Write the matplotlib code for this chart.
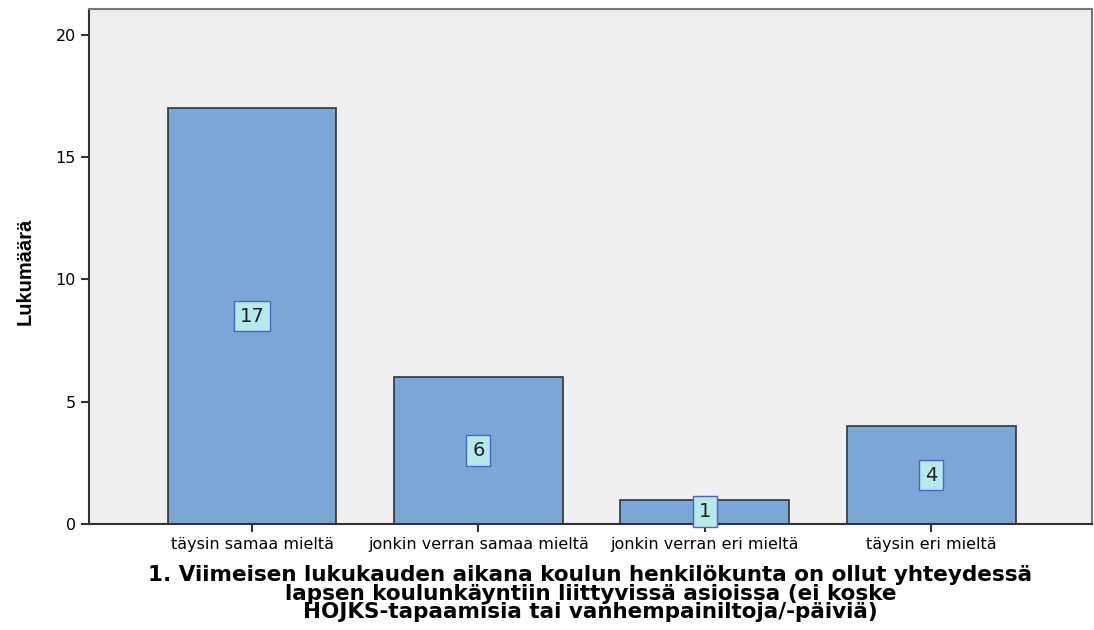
import matplotlib.pyplot as plt

categories = ['täysin samaa mieltä', 'jonkin verran samaa mieltä',
              'jonkin verran eri mieltä', 'täysin eri mieltä']
counts = [17, 6, 1, 4]
y_ticks = [0, 5, 10, 15, 20]
x_title = ('1. Viimeisen lukukauden aikana koulun henkilökunta on ollut yhteydessä\n'
           'lapsen koulunkäyntiin liittyvissä asioissa (ei koske\n'
           'HOJKS-tapaamisia tai vanhempainiltoja/-päiviä)')

plt.rcParams['font.family'] = ['DejaVu Sans']

fig = plt.figure(figsize=(10.94, 6.3), dpi=100)
ax = fig.add_axes([89 / 1094, 1 - 524 / 630, (1092 - 89) / 1094, (524 - 9) / 630])
ax.set_facecolor('#efefef')

pos = list(range(len(categories)))
bars = ax.bar(pos, counts, width=0.746, color='#7ba7d6', edgecolor='#333333', linewidth=1.2, zorder=2)

for b, v in zip(bars, counts):
    ax.text(b.get_x() + b.get_width() / 2, v / 2, str(v), ha='center', va='center',
            fontsize=14, color='#222222', zorder=3,
            bbox=dict(boxstyle='square,pad=0.3', facecolor='#b6eaea', edgecolor='#4a64c8', linewidth=1))

ax.set_xlim(-0.72, 3.71)
ax.set_ylim(0, 21.06)
ax.set_yticks(y_ticks)
ax.set_xticks(pos)
ax.set_xticklabels(categories, fontsize=11.5)
ax.tick_params(axis='y', labelsize=11.5, length=6, width=1.5, color='#333333')
ax.tick_params(axis='x', length=6, width=1.5, color='#333333', pad=3)

for s in ['left', 'bottom']:
    ax.spines[s].set_color('#333333')
    ax.spines[s].set_linewidth(1.5)
for s in ['top', 'right']:
    ax.spines[s].set_color('#777777')
    ax.spines[s].set_linewidth(1.5)

ax.set_ylabel('Lukumäärä', fontsize=14.5, fontweight='heavy',
              family=['Liberation Sans', 'DejaVu Sans'])
ax.yaxis.set_label_coords(-0.054, 0.49)
ax.set_xlabel(x_title, fontsize=15.5, fontweight='bold', labelpad=10, linespacing=0.9)

fig.savefig('out.png', dpi=100)
